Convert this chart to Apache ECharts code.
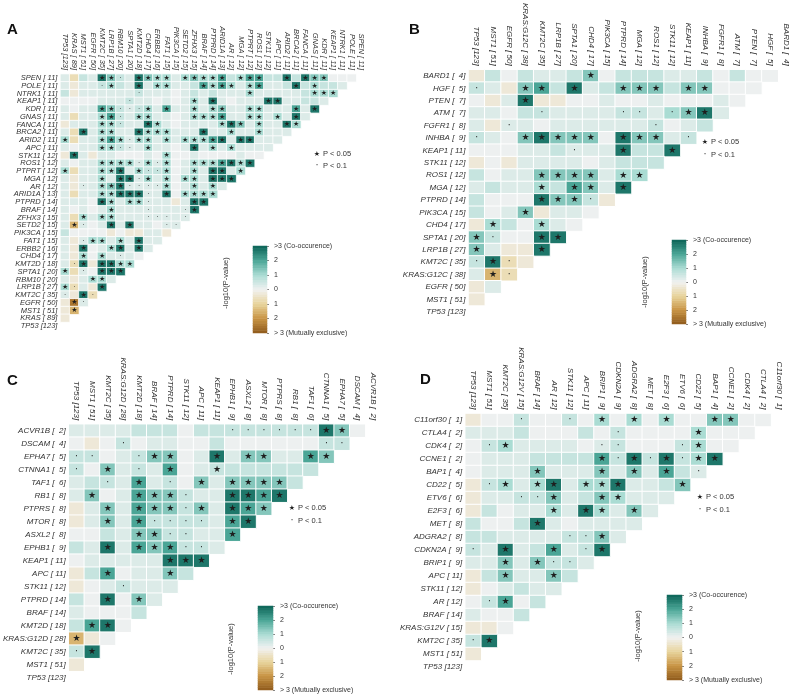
<!DOCTYPE html>
<html><head><meta charset="utf-8">
<script src="https://cdn.jsdelivr.net/npm/echarts/dist/echarts.min.js"></script>
<style>html,body{margin:0;padding:0;background:#fff}#c{width:798px;height:700px}</style>
</head><body><div id="c"></div>
<script>
// value codes: letter = level of -log10(P) (negative = mutually exclusive); mark: ' ' none, '*' P<0.05, '.' P<0.1
const LEVELS = {a:-2.5, b:-1.5, c:-0.7, d:-0.3, e:0.05, f:0.3, g:0.6, h:1.0, i:1.4, j:2.0, k:2.7};
const MARKS = {' ':'', '*':'★', '.':'·'};
const CB_LABELS = ['> 3 (Mutually exclusive)','2','1','0','1','2','>3 (Co-occurence)'];

const GENES_A = ['TP53','KRAS','MST1','EGFR','KMT2C','LRP1B','RBM10','SPTA1','KMT2D','CHD4','ERBB2','FAT1','PIK3CA','SETD2','ZFHX3','BRAF','PTPRD','ARID1A','AR','MGA','PTPRT','ROS1','STK11','APC','ARID2','BRCA2','FANCA','GNAS','KDR','KEAP1','NTRK1','POLE','SPEN'];
const COUNTS_A = [123,89,51,50,35,27,20,20,18,17,16,15,15,15,15,14,14,13,12,12,12,12,12,11,11,11,11,11,11,11,11,11,11];
const ROWS_A = [
"f c g f k*i*g.f k*i*h*h*f h*i*h*h*j*g h*j*j*g g k*g k*i*i*e e e ",
"f d f f g.h*g f k*f h*h*f f g j*h*j*h*f h*j*f f g k*g h*g g f ",
"g d f f f f f f g.f f f e f g f g f f f h*f f f f f g h*h*h*",
"e e e e f f f g.f f e f e f h*f k*f e f f f k*k*f f g g f ",
"f e f f j*i*g.f.g.h*f j*f f h*f h*i*f f h*h*f f f j*f k*",
"f c f f h*j*g.f h*h*f f e f h*h*h*j*f f h*h*f h*f k*f ",
"d f f f h*h*g.f f k*h*f e f f f f h*k*i*f h*f f k*h*",
"f c k*f h*h*f f k*h*h*h*f f f k*f f h*f f h*f f f ",
"h*c f f h*j*h*f.h*h*f h*f h*h*h*j*k*f k*k*f f f ",
"f e f f h*h*g.f.f h*f f e f k*f h*f h*f f f f ",
"d k*f d f f e e e f e h*e e f e e e e f e e ",
"f e f f h*h*h*h*f.h*f.h*e f h*h*h*j*k*h*k*",
"h*c f f h*h*k*f h*g.g.h*e f h*f k*k*f h*",
"f d f f h*f k*k*f.h*f h*e h*h*f k*k*k*",
"f d f.f h*i*k*f.f.f.f.h*e f h*f h*f ",
"f c f f h*h*k*k*k*f.f k*e h*h*h*h*",
"f f f e k*h*f h*h*f.f f d f k*k*",
"f e f e f h*f f f f.f f f f.k*",
"f c h*f h*h*f f f f.f.f.f f.",
"f b*f.e f k*f k*f f e f.f.",
"g e e e e d e d d f f d ",
"f d f.h*h*f h*f k*f f ",
"f d k*e f h*k*f k*f ",
"f d h*e h*f f.f e ",
"f c.k*d k*k*h*h*",
"h*c f.e k*k*k*",
"f d f h*h*f ",
"h*c.f d k*",
"f.d k*c.",
"d a*f.",
"d b*",
"d ",
""
];

const GENES_B = ['TP53','MST1','EGFR','KRAS:G12C','KMT2C','LRP1B','SPTA1','CHD4','PIK3CA','PTPRD','MGA','ROS1','STK11','KEAP1','INHBA','FGFR1','ATM','PTEN','HGF','BARD1'];
const COUNTS_B = [123,51,50,38,35,27,20,17,15,14,12,12,12,11,9,8,7,7,5,4];
const ROWS_B = [
"d g e g f f g i*e g g g f f g e g e e ",
"g.f d i*j*g k*f g i*i*i*g i*i*e e e ",
"e d f k*d d e e f e e f e e e f e ",
"f f e g g.f f f f g.g.f h.i*k*f ",
"f d f.f e f f f f f f g.e f g ",
"g.f e i*k*i*i*i*e k*i*i*f g.",
"e e e f f g f.f f k*g g k*",
"d e d f f f f e f g g g ",
"g e f f i*i*i*i*f h*h*",
"f g f f h*g j*i*f k*",
"g e e e k*i*i*g.d ",
"g e f i*d f f e ",
"d h*g e h*f e ",
"i*g.e e k*k*",
"i*f d d k*",
"g.k*c.d ",
"f b*c.",
"d f ",
"d ",
""
];

const GENES_C = ['TP53','MST1','KMT2C','KRAS:G12D','KMT2D','BRAF','PTPRD','STK11','APC','KEAP1','EPHB1','ASXL2','MTOR','PTPRS','RB1','TAF1','CTNNA1','EPHA7','DSCAM','ACVR1B'];
const COUNTS_C = [123,51,35,28,18,14,14,12,11,11,9,8,8,8,8,6,5,5,4,2];
const ROWS_C = [
"f f f f g g g e g g g.g.g.g.g.g.k*i*e ",
"e d e g.e f f e e g e e e e e e g.g.",
"g.g.e f g.i*i*e f k*f i*i*f f j*i*",
"g.e i*f g.f j*e f g*g g g g g g ",
"f g g.f j*f g.e i*f i*i*i*i*g ",
"f i*e f j*i*i*g.f f k*k*j*k*",
"d f i*f j*i*i*g.i*f k*j*i*",
"d f i*f j*g.g.g.g.f j*k*",
"e e g f i*i*g.g.f f j*",
"g f k*f j*i*j*g.g.f ",
"e f f f f f k*k*k*",
"d g j*e f f i*g ",
"d e f g.f f f ",
"g e k*e i*f ",
"f e e e g ",
"g j*k*e ",
"b*d e ",
"g.k*",
"d ",
""
];

const GENES_D = ['TP53','MST1','KMT2C','KRAS:G12V','BRAF','AR','STK11','APC','BRIP1','CDKN2A','ADGRA2','MET','E2F3','ETV6','CD22','BAP1','CCNE1','CDK4','CTLA4','C11orf30'];
const COUNTS_D = [123,51,35,15,14,12,12,11,9,9,8,8,6,6,5,4,2,2,2,1];
const ROWS_D = [
"d e e g.e e g.e h*e h*e h*e e i*i*e e ",
"f f f g e e e g e g.e e e e h*e e e ",
"e g.h*f f f f e f.g.e e e g.h*e e ",
"e f f f g g g g j*g.k*g.k*g.h*k*",
"e f f f i*f f f i*f i*f j*g f.",
"d g.h*f h*k*f h*h*k*f f g i*",
"d f f g.g.i*f g i*h*f f f ",
"d g e f f h*f k*h*f i*f ",
"g e e g k*f e f f f f ",
"g g f f f f g.g.i*f ",
"g.f k*f g j*f g.k*",
"f f i*f i*g.g.f ",
"d g i*f f i*g ",
"d e f g f f ",
"e g.j*e g ",
"f e e g ",
"d d e ",
"g.k*",
"d ",
""
];

function label(g, n){ return g + ' [' + String(n).padStart(3,' ') + ']'; }
function buildData(rows){
  const out = [];
  rows.forEach((s, r) => {
    for (let i = 0; i < s.length; i += 2) {
      const v = LEVELS[s[i]]; const m = MARKS[s[i+1] || ' '] || '';
      out.push([i/2, r, v, m]);
    }
  });
  return out;
}

const PANELS = [
  {genes:GENES_A, counts:COUNTS_A, rows:ROWS_A, grid:{left:60.4, top:74.1, width:305.2, height:255.7}, fs:7.5, ms:7, bw:0.8,
   letter:[7,30], cb:{left:253, top:246, width:14, height:87}, title:[226,283], leg:[317,154,166]},
  {genes:GENES_B, counts:COUNTS_B, rows:ROWS_B, grid:{left:468.5, top:58, width:326, height:260}, fs:8, ms:9, bw:1,
   letter:[409,30], cb:{left:672, top:240, width:14, height:84}, title:[645,282], leg:[705,142,155]},
  {genes:GENES_C, counts:COUNTS_C, rows:ROWS_C, grid:{left:55, top:424.2, width:326, height:260}, fs:8, ms:9, bw:1,
   letter:[7,381], cb:{left:258, top:606, width:15, height:84}, title:[231,649], leg:[292,508,521]},
  {genes:GENES_D, counts:COUNTS_D, rows:ROWS_D, grid:{left:465.2, top:413.5, width:322, height:260}, fs:8, ms:9, bw:1,
   letter:[420,380], cb:{left:667, top:595, width:15, height:85}, title:[638,636], leg:[700,497,510]}
];
const LETTERS = ['A','B','C','D'];
const NB = 36;
const binCats = Array.from({length:NB}, (_, i) => String(i));
const binData = binCats.map((_, i) => [0, i, -3 + (i + 0.5) * 6 / NB]);

const grids = [], xAxes = [], yAxes = [], series = [], graphics = [];
const FONT = 'Liberation Sans';
PANELS.forEach((p, k) => {
  const labels = p.genes.map((g, i) => label(g, p.counts[i]));
  grids.push(Object.assign({containLabel:false}, p.grid));
  xAxes.push({type:'category', gridIndex:k, position:'top', data:labels,
    axisLine:{show:false}, axisTick:{show:false}, splitLine:{show:false},
    axisLabel:{interval:0, rotate:90, fontSize:p.fs, fontStyle:'italic', color:'#333', fontFamily:FONT, margin:4}});
  yAxes.push({type:'category', gridIndex:k, inverse:true, data:labels.slice().reverse(),
    axisLine:{show:false}, axisTick:{show:false}, splitLine:{show:false},
    axisLabel:{interval:0, fontSize:p.fs, fontStyle:'italic', color:'#333', fontFamily:FONT, margin:3}});
  series.push({type:'heatmap', xAxisIndex:k, yAxisIndex:k, data:buildData(p.rows),
    itemStyle:{borderColor:'#fff', borderWidth:p.bw},
    label:{show:true, formatter:q => q.data[3], fontSize:p.ms, color:'#1e1e1e', fontFamily:'DejaVu Sans'},
    emphasis:{disabled:true}});
  graphics.push({type:'text', left:p.letter[0], top:p.letter[1]-8,
    style:{text:LETTERS[k], font:'bold 15px "Liberation Sans"', fill:'#111'}});
  graphics.push({type:'text', x:p.title[0], y:p.title[1], rotation:Math.PI/2,
    style:{text:'-log10(P-value)', font:'7.5px "Liberation Sans"', fill:'#333', textAlign:'center', textVerticalAlign:'middle'}});
  graphics.push({type:'text', x:p.leg[0], y:p.leg[1],
    style:{text:'★', font:'7px "DejaVu Sans"', fill:'#222', textAlign:'center', textVerticalAlign:'middle'}});
  graphics.push({type:'text', x:p.leg[0]+6, y:p.leg[1],
    style:{text:'P < 0.05', font:'7.5px "Liberation Sans"', fill:'#333', textVerticalAlign:'middle'}});
  graphics.push({type:'text', x:p.leg[0], y:p.leg[2],
    style:{text:'·', font:'8px "DejaVu Sans"', fill:'#222', textAlign:'center', textVerticalAlign:'middle'}});
  graphics.push({type:'text', x:p.leg[0]+6, y:p.leg[2],
    style:{text:'P < 0.1', font:'7.5px "Liberation Sans"', fill:'#333', textVerticalAlign:'middle'}});
});
// colour bars
PANELS.forEach((p, k) => {
  const gi = 4 + k;
  grids.push(Object.assign({}, p.cb));
  xAxes.push({type:'category', gridIndex:gi, data:['c'], show:false});
  yAxes.push({type:'category', gridIndex:gi, data:binCats, show:false});
  series.push({type:'heatmap', xAxisIndex:gi, yAxisIndex:yAxes.length-1, data:binData,
    itemStyle:{borderWidth:0}, emphasis:{disabled:true}, silent:true});
});
PANELS.forEach((p, k) => {
  yAxes.push({type:'value', gridIndex:4+k, position:'right', min:-3, max:3, interval:1,
    axisLine:{show:false}, splitLine:{show:false},
    axisTick:{show:true, length:2, lineStyle:{color:'#666', width:0.8}},
    axisLabel:{fontSize:7, color:'#333', fontFamily:FONT, margin:7,
      formatter:v => CB_LABELS[Math.round(v) + 3]}});
});

const chart = echarts.init(document.getElementById('c'), null, {renderer:'canvas'});
chart.setOption({
  animation:false,
  backgroundColor:'#fff',
  grid:grids, xAxis:xAxes, yAxis:yAxes, series:series,
  visualMap:{type:'continuous', min:-3, max:3, dimension:2, show:false, seriesIndex:[0,1,2,3,4,5,6,7],
    inRange:{color:['#8f5a1c','#c89444','#e8d49c','#f1f1f1','#aadcd3','#4aa596','#0b6457']}},
  graphic:graphics
});
</script></body></html>
